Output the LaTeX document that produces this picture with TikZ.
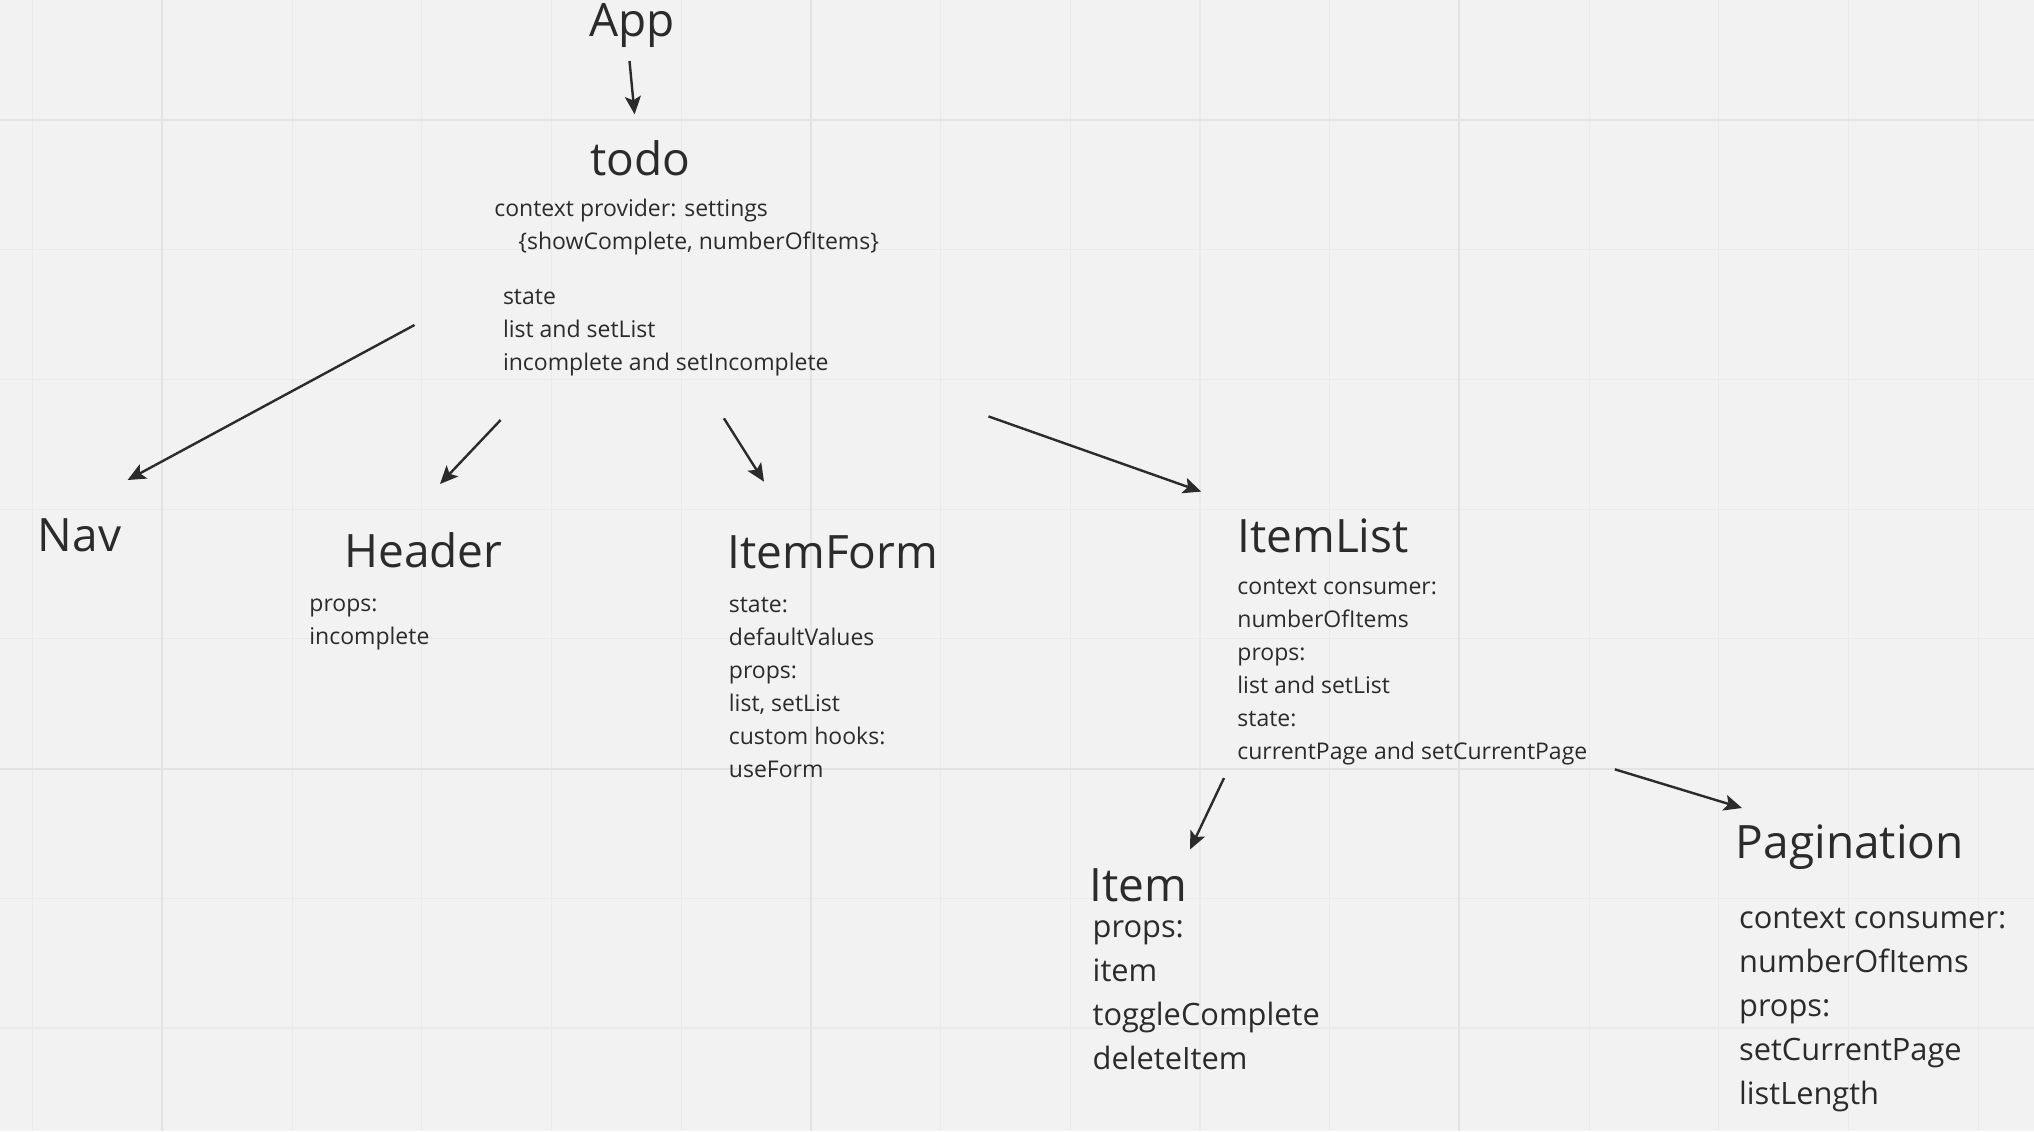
\documentclass[tikz,border=0pt]{standalone}
\usepackage{fontspec}
\setmainfont{Open Sans}
\usetikzlibrary{arrows.meta}

\definecolor{canvas}{HTML}{F2F2F2}
\definecolor{gridminor}{HTML}{EAEAEA}
\definecolor{gridmajor}{HTML}{E3E3E3}
\definecolor{ink}{HTML}{2B2B2B}

\tikzset{
  title/.style={anchor=base west, inner sep=0pt, text=ink, font=\fontsize{23}{28}\selectfont},
  notes/.style={anchor=north west, inner sep=0pt, align=left, text=ink, font=\fontsize{11.5}{16.5}\selectfont},
  bignotes/.style={notes, font=\fontsize{15.4}{22}\selectfont},
  link/.style={-{Stealth[length=9pt,width=8pt,inset=2pt]}, line width=1.2pt, draw=ink},
}

\begin{document}
\begin{tikzpicture}[x=0.5pt, y=-0.5pt]
% canvas and grid
\fill[canvas] (0,0) rectangle (2034,1131);
\useasboundingbox (0,0) rectangle (2034,1131);
\foreach \i in {0,...,15}
  \draw[gridminor, line width=0.6pt] ({32.7+129.7*\i},0) -- ({32.7+129.7*\i},1131);
\foreach \j in {0,...,8}
  \draw[gridminor, line width=0.6pt] (0,{-9.7+129.7*\j}) -- (2034,{-9.7+129.7*\j});
\foreach \i in {1,6,11}
  \draw[gridmajor, line width=1pt] ({32.7+129.7*\i},0) -- ({32.7+129.7*\i},1131);
\foreach \j in {1,6}
  \draw[gridmajor, line width=1pt] (0,{-9.7+129.7*\j}) -- (2034,{-9.7+129.7*\j});

% components
\node[title] (app) at (589,36) {App};
\node[title] (todo) at (590,175) {todo};
\node[notes] (todoctx) at (494,198.5) {context provider: settings\\\hspace*{12pt}\{showComplete, numberOfItems\}};
\node[notes] (todostate) at (502.6,289.3) {state\\list and setList\\incomplete and setIncomplete};

\node[title] (nav) at (37.6,551) {Nav};
\node[title] (header) at (344,567.5) {Header};
\node[notes] (headerprops) at (309,598.9) {props:\\incomplete};
\node[title] (itemform) at (727,568) {ItemForm};
\node[notes] (itemformnotes) at (728.5,597.4) {state:\\defaultValues\\props:\\list, setList\\custom hooks:\\useForm};
\node[title] (itemlist) at (1237,552.5) {ItemList};
\node[notes] (itemlistnotes) at (1237,579.3) {context consumer:\\numberOfItems\\props:\\list and setList\\state:\\currentPage and setCurrentPage};

\node[title] (item) at (1089,901) {Item};
\node[bignotes] (itemprops) at (1092.3,919.7) {props:\\item\\toggleComplete\\deleteItem};
\node[title] (pagination) at (1735.5,858.2) {Pagination};
\node[bignotes] (paginationnotes) at (1738.7,907.8) {context consumer:\\numberOfItems\\props:\\setCurrentPage\\listLength};

% arrow ends
\coordinate (app-out) at (629.5,61);
\coordinate (todo-in) at (634.6,114.3);
\coordinate (todo-nav) at (414.5,325);
\coordinate (nav-in) at (127.6,480);
\coordinate (todo-header) at (500.6,420);
\coordinate (header-in) at (440,484);
\coordinate (todo-itemform) at (723.9,418.3);
\coordinate (itemform-in) at (764,481.7);
\coordinate (todo-itemlist) at (988.5,416.4);
\coordinate (itemlist-in) at (1201.2,491.6);
\coordinate (itemlist-item) at (1224,778);
\coordinate (item-in) at (1190,849.5);
\coordinate (itemlist-pagination) at (1614.8,769.3);
\coordinate (pagination-in) at (1742,808);

\draw[link] (app-out) -- (todo-in);
\draw[link] (todo-nav) -- (nav-in);
\draw[link] (todo-header) -- (header-in);
\draw[link] (todo-itemform) -- (itemform-in);
\draw[link] (todo-itemlist) -- (itemlist-in);
\draw[link] (itemlist-item) -- (item-in);
\draw[link] (itemlist-pagination) -- (pagination-in);
\end{tikzpicture}
\end{document}
